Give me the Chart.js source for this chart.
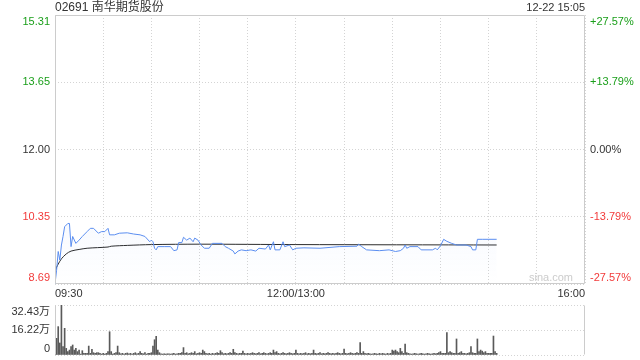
<!DOCTYPE html>
<html>
<head>
<meta charset="utf-8">
<title>02691 南华期货股份</title>
<script src="https://cdn.jsdelivr.net/npm/chart.js@4.4.1/dist/chart.umd.min.js"></script>
<style>
  html, body { margin: 0; padding: 0; background: #fff; }
  #wrap { position: relative; width: 640px; height: 360px; overflow: hidden; }
  #priceChart { position: absolute; left: 0; top: 0; }
  #volumeChart { position: absolute; left: 0; top: 300px; }
</style>
</head>
<body>
<div id="wrap">
  <canvas id="priceChart" width="640" height="300"></canvas>
  <canvas id="volumeChart" width="640" height="60"></canvas>
</div>
<script>
const stockTitle = "02691 南华期货股份";
const stampText = "12-22 15:05";
const prevClose = 12.0;

// time axis: trading minutes since 09:30 (lunch removed), 330 = 16:00
const gridMinutes = [0, 30, 60, 90, 120, 150, 180, 210, 240, 270, 300, 330];
const timeTickValues = [0, 150, 330];
const timeTickLabels = ["09:30", "12:00/13:00", "16:00"];

const priceTickValues = [8.69, 10.345, 12.0, 13.655, 15.31];
const priceTickLabels = ["8.69", "10.35", "12.00", "13.65", "15.31"];
const pctTickLabels = ["-27.57%", "-13.79%", "0.00%", "+13.79%", "+27.57%"];

const volTickValues = [0, 16.215, 32.43];
const volTickLabels = ["0", "16.22万", "32.43万"];

// price line (minute, price)
const priceMinutes = [
  0, 1, 2, 3, 4, 5, 6, 8, 9, 10, 11, 13, 15, 17, 20, 22, 24, 27, 29, 31,
  33, 34, 37, 40, 45, 49, 53, 56, 59, 60, 61, 62, 63, 64, 68, 72, 74, 76, 77, 79,
  80, 82, 84, 86, 87, 89, 91, 93, 96, 98, 104, 106, 108, 111, 112, 114, 116, 119, 122, 125,
  127, 131, 133, 134, 136, 137, 140, 142, 143, 146, 148, 150, 155, 165, 177, 188, 189, 191, 194, 202,
  208, 212, 215, 217, 218, 219, 221, 226, 228, 235, 237, 238, 240, 242, 244, 247, 250, 256, 259, 260,
  262, 263, 266, 275
];
const priceValues = [
  8.69, 9.03, 9.49, 9.28, 9.65, 9.86, 10.10, 10.18, 10.18, 9.61, 9.86, 9.69, 9.77, 9.86, 9.98, 10.06, 10.06, 9.94, 9.98, 9.98,
  10.06, 9.90, 9.90, 9.94, 9.95, 9.92, 9.90, 9.86, 9.73, 9.77, 9.73, 9.57, 9.53, 9.61, 9.61, 9.61, 9.51, 9.53, 9.71, 9.71,
  9.84, 9.77, 9.82, 9.73, 9.82, 9.77, 9.65, 9.57, 9.57, 9.69, 9.69, 9.61, 9.57, 9.50, 9.43, 9.50, 9.53, 9.51, 9.53, 9.50,
  9.57, 9.55, 9.65, 9.53, 9.73, 9.53, 9.53, 9.73, 9.61, 9.65, 9.53, 9.57, 9.58, 9.57, 9.61, 9.62, 9.67, 9.61, 9.53, 9.51,
  9.53, 9.49, 9.51, 9.57, 9.65, 9.57, 9.61, 9.61, 9.53, 9.53, 9.57, 9.53, 9.63, 9.79, 9.74, 9.69, 9.65, 9.65, 9.61, 9.53,
  9.53, 9.79, 9.79, 9.79
];

// average price line
const avgMinutes = [0, 1, 2, 4, 7, 10, 15, 20, 33, 35, 45, 60, 90, 150, 275];
const avgValues = [9.00, 9.10, 9.18, 9.31, 9.43, 9.50, 9.54, 9.57, 9.60, 9.62, 9.64, 9.66, 9.67, 9.66, 9.65];

// volume per minute, in 万
const volumeValues = [
  24.8, 10.8, 18.4, 7.8, 32.43, 5.4, 17.3, 4.3, 2.2, 3.2, 5.4, 6.5, 3.2, 4.3, 2.2, 3.2, 0.6, 2.8, 1.1, 1.1,
  1.1, 5.8, 1.1, 3.7, 1.5, 1.1, 1.5, 1.5, 1.1, 0.6, 1.1, 0.6, 1.1, 2.2, 15.1, 2.2, 0.6, 1.1, 1.5, 5.8,
  1.5, 0.8, 1.1, 0.6, 1.1, 1.3, 0.8, 1.1, 0.6, 1.1, 1.5, 0.8, 1.1, 2.2, 1.1, 0.8, 1.5, 0.6, 1.1, 1.1,
  1.5, 5.8, 9.9, 12.1, 3.2, 1.5, 0.8, 0.6, 0.8, 0.6, 0.8, 0.8, 0.6, 0.8, 1.1, 0.6, 0.8, 1.1, 1.1, 1.5,
  4.8, 1.1, 1.5, 0.8, 1.1, 1.5, 1.1, 2.2, 0.8, 1.1, 1.5, 1.1, 3.2, 2.2, 1.1, 0.8, 1.1, 0.6, 1.1, 0.8,
  1.1, 1.5, 1.1, 2.8, 1.5, 0.8, 1.1, 0.8, 1.1, 1.5, 1.1, 3.7, 1.5, 1.1, 0.8, 1.1, 1.1, 2.5, 1.1, 0.8,
  1.1, 0.8, 1.1, 1.5, 1.1, 0.8, 1.1, 1.5, 0.8, 1.1, 1.5, 1.1, 0.8, 1.1, 1.5, 1.1, 3.2, 1.5, 2.2, 1.1,
  0.8, 1.1, 1.5, 1.1, 0.8, 1.1, 1.5, 1.1, 0.8, 1.1, 3.2, 1.1, 0.8, 1.1, 0.8, 1.1, 1.5, 0.8, 1.1, 0.8,
  1.1, 3.2, 1.1, 0.8, 1.1, 1.5, 0.8, 1.1, 0.8, 1.1, 1.5, 1.1, 0.8, 1.1, 0.8, 1.1, 1.5, 1.1, 0.8, 1.1,
  3.9, 1.1, 0.8, 1.1, 1.5, 1.1, 0.8, 1.1, 1.5, 1.1, 8.0, 1.1, 2.2, 1.1, 0.8, 1.1, 0.8, 0.6, 0.8, 1.1,
  0.8, 0.6, 1.1, 0.8, 1.1, 0.8, 0.6, 1.1, 0.8, 1.1, 3.2, 2.5, 3.2, 2.2, 1.5, 4.3, 2.2, 1.1, 7.1, 1.5,
  1.1, 0.8, 0.6, 0.8, 1.1, 0.8, 0.6, 0.8, 1.1, 0.8, 0.6, 0.8, 1.1, 0.8, 0.6, 0.8, 1.1, 0.8, 1.1, 1.5,
  2.2, 1.1, 1.1, 1.1, 14.5, 1.5, 2.2, 1.5, 1.1, 1.1, 10.4, 1.1, 1.5, 2.2, 1.1, 1.1, 0.8, 1.1, 1.5, 5.4,
  1.5, 1.1, 1.1, 10.4, 2.2, 3.2, 2.5, 1.5, 2.2, 1.1, 1.1, 1.1, 1.1, 12.3, 2.2, 1.1
];

const FONT_FAMILY = '"Liberation Sans", Arial, "Noto Sans CJK SC", sans-serif';
const AXIS_FONT = `11px ${FONT_FAMILY}`;
const GRID_COLOR = "#d4d4d4";
const FRAME_COLOR = "#cccccc";
const UP_COLOR = "#1a9f1a";
const DOWN_COLOR = "#f23a3a";
const TEXT_COLOR = "#333333";

const priceColor = (v) =>
  v > prevClose + 0.001 ? UP_COLOR : v < prevClose - 0.001 ? DOWN_COLOR : TEXT_COLOR;

// frame around the plot area
function makeFrame(sides) {
  return {
    id: "frame",
    afterDraw(chart) {
      const { ctx, chartArea } = chart;
      const l = Math.round(chartArea.left) + 0.5;
      const r = Math.round(chartArea.right) - 0.5;
      const t = Math.round(chartArea.top) + 0.5;
      const b = Math.round(chartArea.bottom) - 0.5;
      ctx.save();
      ctx.strokeStyle = FRAME_COLOR;
      ctx.lineWidth = 1;
      ctx.beginPath();
      if (sides.includes("top")) { ctx.moveTo(l, t); ctx.lineTo(r, t); }
      if (sides.includes("bottom")) { ctx.moveTo(l, b); ctx.lineTo(r, b); }
      if (sides.includes("left")) { ctx.moveTo(l, t); ctx.lineTo(l, b); }
      if (sides.includes("right")) { ctx.moveTo(r, t); ctx.lineTo(r, b); }
      ctx.stroke();
      ctx.restore();
    },
  };
}

// tick labels on both sides; top label hangs below the edge, bottom one sits above it
function makeSideLabels(scaleId, values, columns) {
  return {
    id: "sideLabels",
    afterDraw(chart) {
      const { ctx, chartArea } = chart;
      const scale = chart.scales[scaleId];
      ctx.save();
      ctx.font = AXIS_FONT;
      columns.forEach((col) => {
        const left = col.side === "left";
        ctx.textAlign = left ? "right" : "left";
        const x = left ? chartArea.left - 5 : chartArea.right + 5;
        values.forEach((v, i) => {
          let y = scale.getPixelForValue(v);
          if (i === 0) { ctx.textBaseline = "bottom"; y -= 1; }
          else if (i === values.length - 1) { ctx.textBaseline = "top"; y += 1; }
          else ctx.textBaseline = "middle";
          ctx.fillStyle = col.color(v);
          ctx.fillText(col.labels[i], x, y);
        });
      });
      ctx.restore();
    },
  };
}

const headerText = {
  id: "headerText",
  afterDraw(chart) {
    const { ctx, chartArea } = chart;
    ctx.save();
    ctx.textBaseline = "middle";
    ctx.fillStyle = TEXT_COLOR;
    ctx.font = `12px ${FONT_FAMILY}`;
    ctx.textAlign = "left";
    ctx.fillText(stockTitle, chartArea.left, 8);
    ctx.font = AXIS_FONT;
    ctx.textAlign = "right";
    ctx.fillText(stampText, chartArea.right, 8);
    // watermark
    ctx.fillStyle = "#cccccc";
    ctx.textBaseline = "bottom";
    ctx.fillText("sina.com", chartArea.right - 12, chartArea.bottom - 1);
    ctx.restore();
  },
};

function fixedWidth(w) {
  return (scale) => { scale.width = w; };
}

function buildPriceChart() {
  const ctx = document.getElementById("priceChart").getContext("2d");
  return new Chart(ctx, {
    type: "line",
    data: {
      datasets: [
        {
          label: "价格",
          data: priceMinutes.map((m, i) => ({ x: m, y: priceValues[i] })),
          borderColor: "#5b8ef0",
          borderWidth: 1,
          pointRadius: 0,
          tension: 0,
          fill: "start",
          backgroundColor: (c) => {
            const area = c.chart.chartArea;
            if (!area) return "rgba(91, 142, 240, 0.04)";
            const g = c.chart.ctx.createLinearGradient(0, area.top, 0, area.bottom);
            g.addColorStop(0, "rgba(91, 142, 240, 0.06)");
            g.addColorStop(0.8, "rgba(91, 142, 240, 0.04)");
            g.addColorStop(1, "rgba(91, 142, 240, 0.0)");
            return g;
          },
        },
        {
          label: "均价",
          data: avgMinutes.map((m, i) => ({ x: m, y: avgValues[i] })),
          borderColor: "#2b2b2b",
          borderWidth: 1,
          pointRadius: 0,
          tension: 0.3,
          fill: false,
        },
      ],
    },
    options: {
      responsive: false,
      animation: false,
      events: [],
      layout: { padding: { top: 15, left: 0, right: 0, bottom: 0 } },
      plugins: { legend: { display: false }, tooltip: { enabled: false } },
      scales: {
        x: {
          type: "linear",
          min: 0,
          max: 330,
          afterBuildTicks: (s) => { s.ticks = gridMinutes.map((v) => ({ value: v })); },
          afterFit: (s) => { s.height = 16; },
          ticks: {
            autoSkip: false,
            maxRotation: 0,
            align: "inner",
            padding: 3,
            color: TEXT_COLOR,
            font: { family: FONT_FAMILY, size: 11 },
            callback: (v) => {
              const i = timeTickValues.indexOf(v);
              return i >= 0 ? timeTickLabels[i] : "";
            },
          },
          grid: { color: GRID_COLOR, drawTicks: false },
          border: { display: false, dash: [1, 2] },
        },
        y: {
          position: "left",
          min: priceTickValues[0],
          max: priceTickValues[priceTickValues.length - 1],
          afterBuildTicks: (s) => { s.ticks = priceTickValues.map((v) => ({ value: v })); },
          afterFit: fixedWidth(55),
          ticks: { display: false },
          grid: { color: GRID_COLOR, drawTicks: false },
          border: { display: false, dash: [1, 2] },
        },
        y2: {
          position: "right",
          min: priceTickValues[0],
          max: priceTickValues[priceTickValues.length - 1],
          afterFit: fixedWidth(55),
          ticks: { display: false },
          grid: { display: false },
          border: { display: false },
        },
      },
    },
    plugins: [
      makeFrame(["top", "bottom", "left", "right"]),
      makeSideLabels("y", priceTickValues, [
        { side: "left", labels: priceTickLabels, color: priceColor },
        { side: "right", labels: pctTickLabels, color: priceColor },
      ]),
      headerText,
    ],
  });
}

function buildVolumeChart() {
  const ctx = document.getElementById("volumeChart").getContext("2d");
  return new Chart(ctx, {
    type: "bar",
    data: {
      datasets: [
        {
          label: "成交量",
          data: volumeValues.map((v, m) => ({ x: m, y: v })),
          backgroundColor: "#5a5a5a",
          barThickness: 1,
          borderWidth: 0,
        },
      ],
    },
    options: {
      responsive: false,
      animation: false,
      events: [],
      layout: { padding: { top: 5, bottom: 5, left: 0, right: 55 } },
      plugins: { legend: { display: false }, tooltip: { enabled: false } },
      scales: {
        x: {
          type: "linear",
          min: 0,
          max: 330,
          offset: false,
          display: false,
          grid: { offset: false },
        },
        y: {
          position: "left",
          min: 0,
          max: volTickValues[volTickValues.length - 1],
          afterBuildTicks: (s) => { s.ticks = volTickValues.map((v) => ({ value: v })); },
          afterFit: fixedWidth(55),
          ticks: { display: false },
          grid: { color: GRID_COLOR, drawTicks: false },
          border: { display: false, dash: [1, 2] },
        },
      },
    },
    plugins: [
      makeFrame(["left", "right"]),
      makeSideLabels("y", volTickValues, [
        { side: "left", labels: volTickLabels, color: () => TEXT_COLOR },
      ]),
    ],
  });
}

buildPriceChart();
buildVolumeChart();
</script>
</body>
</html>
